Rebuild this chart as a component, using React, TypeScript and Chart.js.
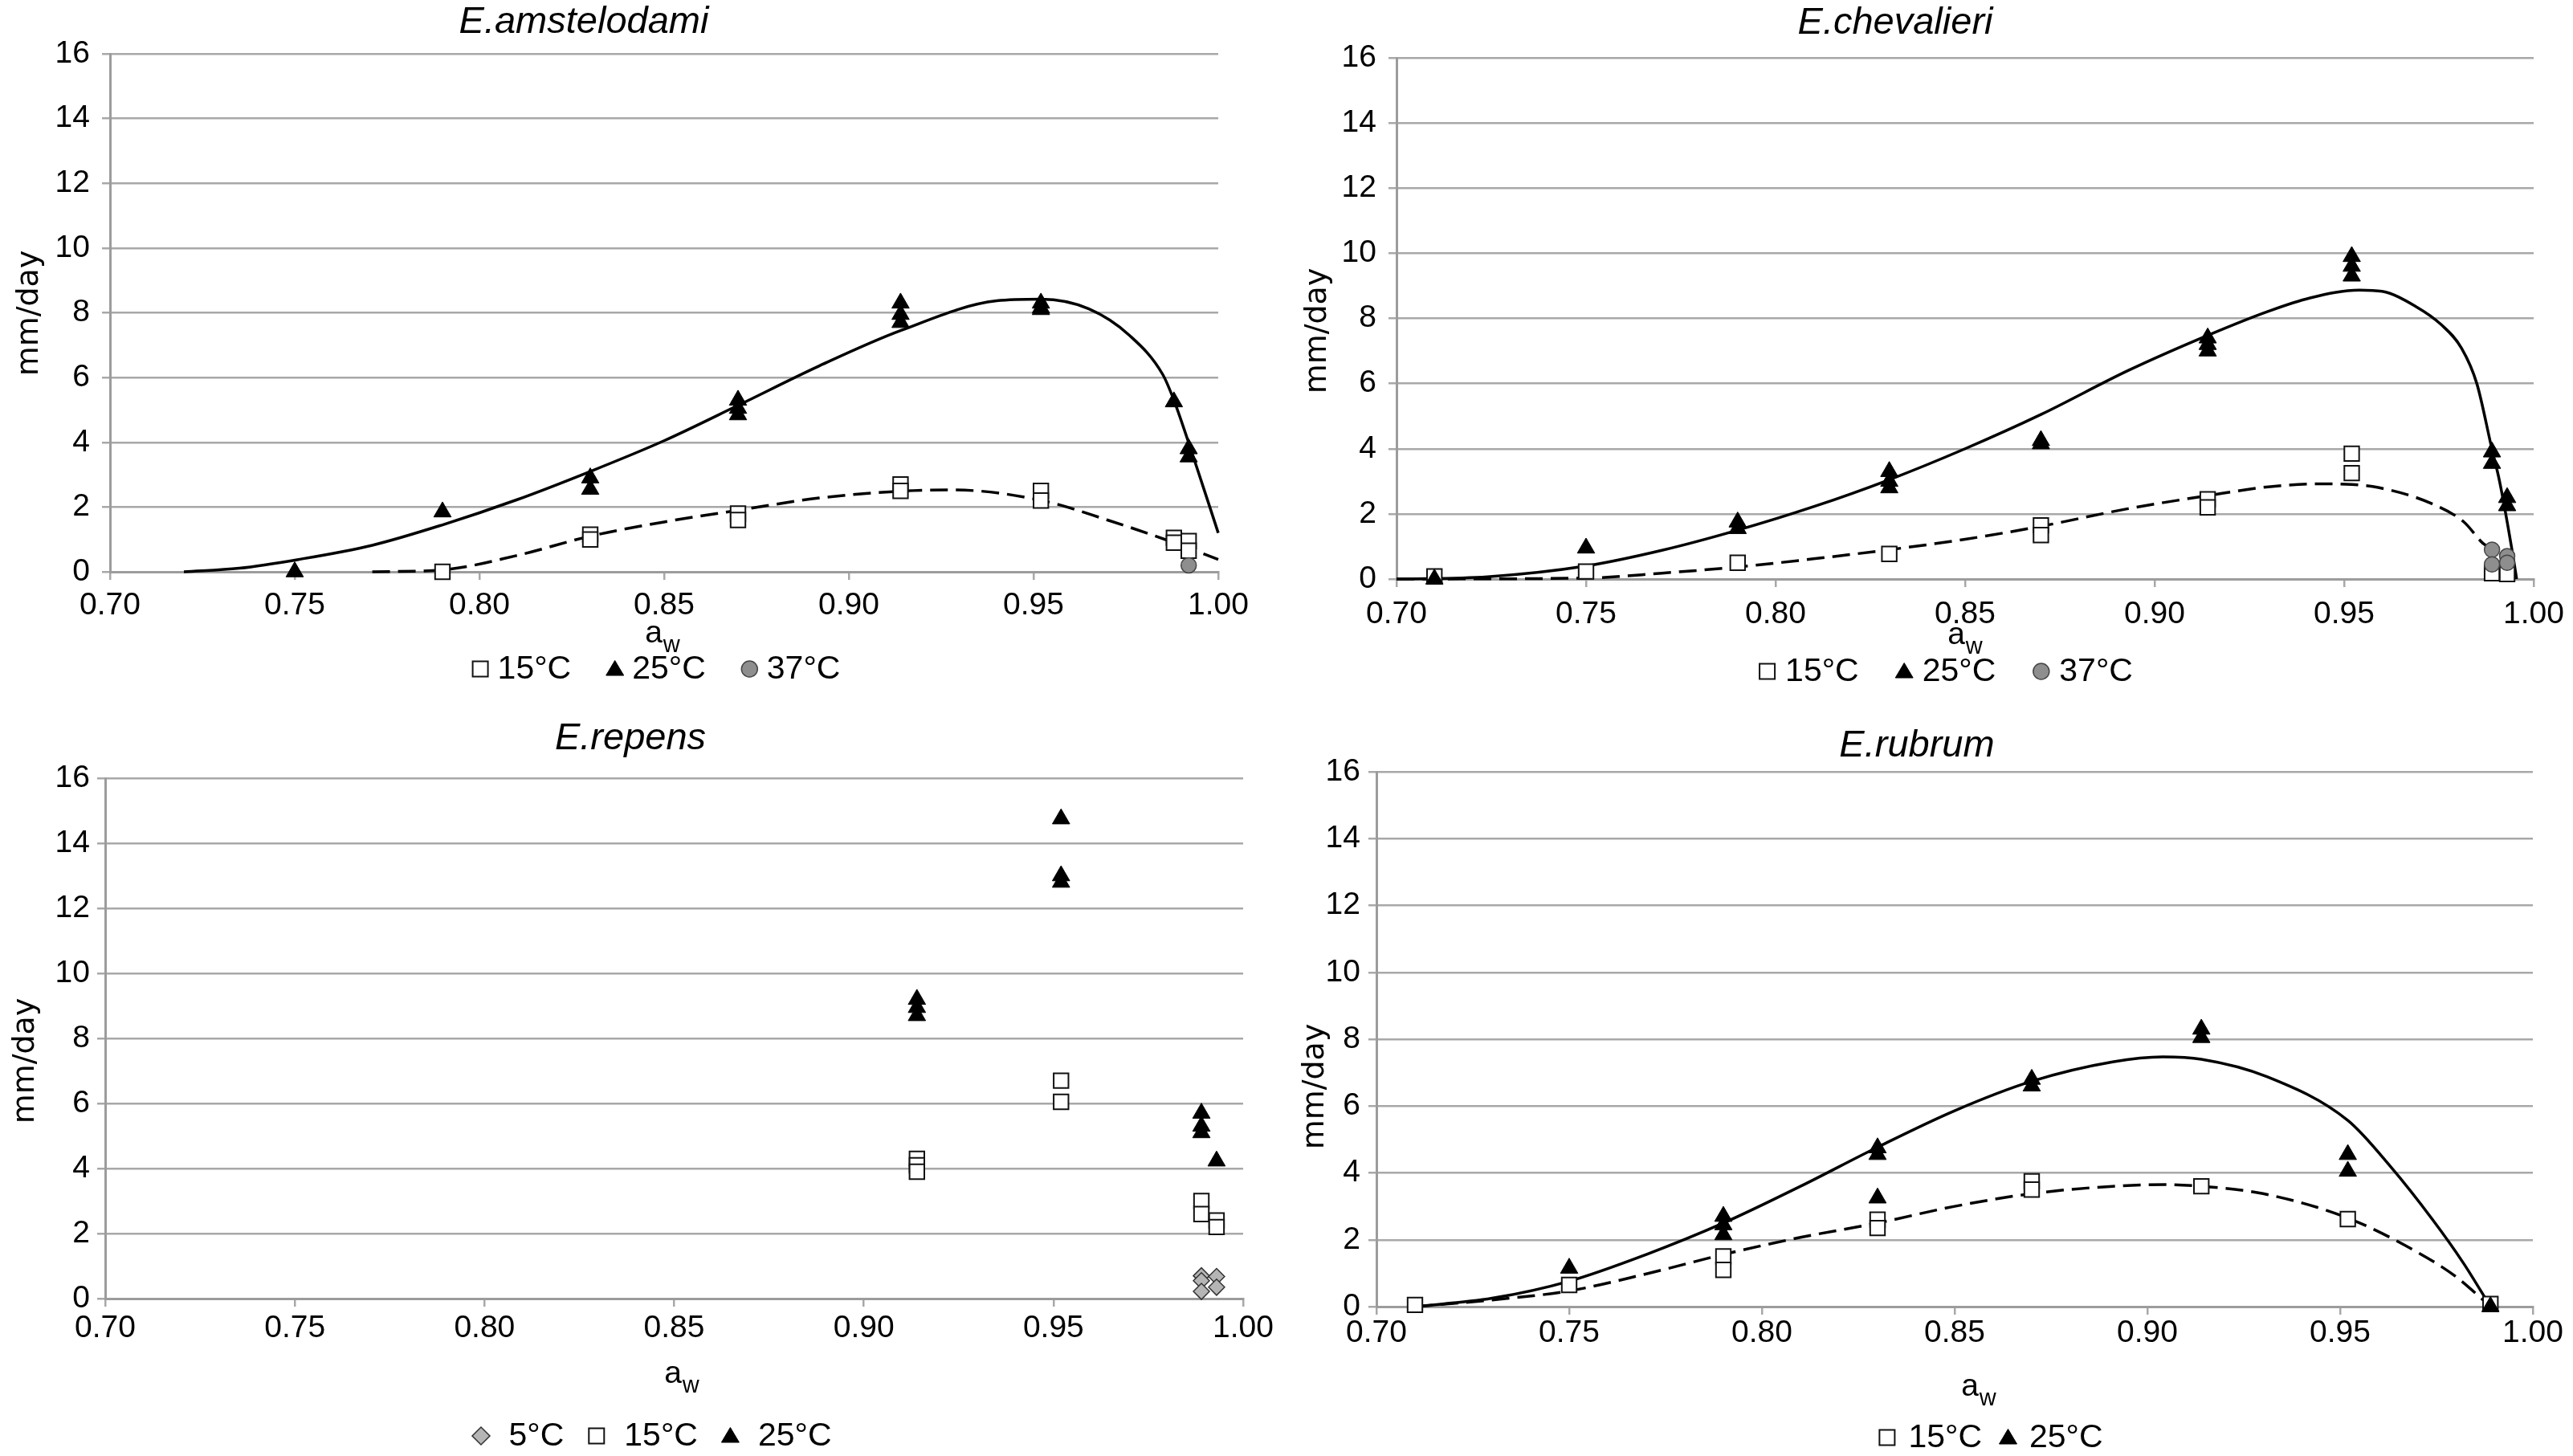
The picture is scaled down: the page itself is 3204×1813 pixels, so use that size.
import { useEffect, useRef } from 'react';
import { Chart, registerables } from 'chart.js';

Chart.register(...registerables);

const SANS = '"Liberation Sans", Arial, Helvetica, sans-serif';
const WIDE = '"DejaVu Sans", Verdana, sans-serif';
const GRID = '#a8a8a8';
const AXIS = '#9c9c9c';

const X_MIN = 0.7;
const X_MAX = 1.0;
const X_STEP = 0.05;
const Y_MIN = 0;
const Y_MAX = 16;
const Y_STEP = 2;

// ---------------- E.amstelodami ----------------
const amstAw15 = [0.79, 0.83, 0.83, 0.87, 0.87, 0.914, 0.914, 0.952, 0.952, 0.988, 0.988, 0.992, 0.992];
const amstRate15 = [0.0, 1.15, 1.0, 1.8, 1.6, 2.7, 2.5, 2.5, 2.2, 1.05, 0.9, 0.95, 0.65];
const amstAw25 = [0.75, 0.79, 0.83, 0.83, 0.87, 0.87, 0.87, 0.914, 0.914, 0.914, 0.952, 0.952, 0.952, 0.988, 0.992, 0.992];
const amstRate25 = [0.0, 1.85, 2.9, 2.55, 5.3, 5.05, 4.85, 8.3, 7.95, 7.7, 8.3, 8.15, 8.1, 5.25, 3.8, 3.55];
const amstAw37 = [0.992];
const amstRate37 = [0.2];
const amstFitAw25 = [0.72, 0.735, 0.751, 0.771, 0.79, 0.81, 0.83, 0.85, 0.87, 0.892, 0.914, 0.94, 0.952, 0.965, 0.976, 0.985, 0.988, 0.993, 1.0];
const amstFit25 = [0, 0.11, 0.38, 0.82, 1.45, 2.22, 3.1, 4.05, 5.14, 6.36, 7.45, 8.37, 8.42, 8.12, 7.3, 6.09, 5.3, 3.64, 1.2];
const amstFitAw15 = [0.771, 0.79, 0.81, 0.83, 0.85, 0.87, 0.892, 0.914, 0.928, 0.952, 0.97, 0.989, 1.0];
const amstFit15 = [0, 0.06, 0.5, 1.1, 1.54, 1.9, 2.28, 2.49, 2.53, 2.21, 1.6, 0.86, 0.38];

// ---------------- E.chevalieri ----------------
const chevAw15 = [0.71, 0.75, 0.79, 0.83, 0.87, 0.87, 0.914, 0.914, 0.952, 0.952, 0.989, 0.993];
const chevRate15 = [0.08, 0.23, 0.5, 0.77, 1.65, 1.35, 2.45, 2.2, 3.85, 3.25, 0.18, 0.15];
const chevAw25 = [0.71, 0.75, 0.79, 0.79, 0.83, 0.83, 0.83, 0.87, 0.87, 0.914, 0.914, 0.914, 0.952, 0.952, 0.952, 0.989, 0.989, 0.993, 0.993];
const chevRate25 = [0.0, 0.95, 1.75, 1.55, 3.3, 3.0, 2.8, 4.25, 4.15, 7.4, 7.2, 7.0, 9.9, 9.6, 9.3, 3.9, 3.55, 2.5, 2.25];
const chevAw37 = [0.989, 0.989, 0.993, 0.993];
const chevRate37 = [0.9, 0.45, 0.7, 0.5];
const chevFitAw25 = [0.7, 0.724, 0.75, 0.77, 0.79, 0.81, 0.83, 0.85, 0.87, 0.893, 0.914, 0.93, 0.941, 0.954, 0.96, 0.969, 0.9755, 0.981, 0.985, 0.989, 0.991, 0.9947, 0.9955];
const chevFit25 = [0, 0.07, 0.4, 0.88, 1.5, 2.22, 3.05, 4.0, 5.05, 6.4, 7.48, 8.22, 8.63, 8.87, 8.83, 8.36, 7.82, 7.08, 6.0, 3.98, 3.0, 0.6, 0];
const chevFitAw15 = [0.7, 0.75, 0.77, 0.79, 0.81, 0.83, 0.85, 0.87, 0.893, 0.914, 0.93, 0.943, 0.952, 0.959, 0.973, 0.9816, 0.9867, 0.989];
const chevFit15 = [0, 0.03, 0.18, 0.37, 0.62, 0.9, 1.22, 1.62, 2.16, 2.56, 2.83, 2.92, 2.9, 2.81, 2.32, 1.75, 1.09, 0.94];

// ---------------- E.repens ----------------
const repAw5 = [0.989, 0.989, 0.989, 0.993, 0.993];
const repRate5 = [0.7, 0.55, 0.22, 0.68, 0.35];
const repAw15 = [0.914, 0.914, 0.914, 0.952, 0.952, 0.989, 0.989, 0.993, 0.993];
const repRate15 = [4.3, 4.1, 3.9, 6.7, 6.05, 3.0, 2.6, 2.4, 2.2];
const repAw25 = [0.914, 0.914, 0.914, 0.952, 0.952, 0.952, 0.989, 0.989, 0.989, 0.993];
const repRate25 = [9.2, 8.95, 8.7, 14.75, 13.0, 12.8, 5.7, 5.3, 5.1, 4.23];

// ---------------- E.rubrum ----------------
const rubAw15 = [0.71, 0.75, 0.79, 0.79, 0.83, 0.83, 0.87, 0.87, 0.914, 0.952, 0.989];
const rubRate15 = [0.05, 0.65, 1.5, 1.1, 2.6, 2.35, 3.75, 3.5, 3.6, 2.62, 0.08];
const rubAw25 = [0.75, 0.79, 0.79, 0.79, 0.83, 0.83, 0.83, 0.87, 0.87, 0.914, 0.914, 0.952, 0.952, 0.989];
const rubRate25 = [1.15, 2.7, 2.45, 2.15, 4.75, 4.55, 3.25, 6.8, 6.6, 8.3, 8.05, 4.55, 4.05, 0];
const rubFitAw25 = [0.71, 0.73, 0.75, 0.77, 0.79, 0.81, 0.83, 0.85, 0.87, 0.891, 0.904, 0.914, 0.931, 0.952, 0.963, 0.974, 0.982, 0.989];
const rubFit25 = [0, 0.25, 0.76, 1.56, 2.5, 3.6, 4.77, 5.86, 6.74, 7.32, 7.47, 7.4, 6.88, 5.57, 4.2, 2.6, 1.3, 0];
const rubFitAw15 = [0.71, 0.73, 0.75, 0.77, 0.79, 0.81, 0.83, 0.85, 0.87, 0.891, 0.905, 0.914, 0.93, 0.952, 0.97, 0.98, 0.989];
const rubFit15 = [0, 0.2, 0.47, 0.98, 1.56, 2.07, 2.5, 3.0, 3.38, 3.6, 3.65, 3.6, 3.38, 2.65, 1.63, 0.9, 0];

// ---------------- styles ----------------
const STYLE: Record<string, any> = {
  t5: { label: '5°C', pointStyle: 'rectRot', pointRadius: 10, pointBackgroundColor: '#b5b5b5', pointBorderColor: '#333333', pointBorderWidth: 1.5, order: 3 },
  t15: { label: '15°C', pointStyle: 'rect', pointRadius: 13, pointBackgroundColor: '#ffffff', pointBorderColor: '#111111', pointBorderWidth: 2, order: 2 },
  t25: { label: '25°C', pointStyle: 'triangle', pointRadius: 12.5, pointBackgroundColor: '#000000', pointBorderColor: '#000000', pointBorderWidth: 1, order: 1 },
  t37: { label: '37°C', pointStyle: 'circle', pointRadius: 9.5, pointBackgroundColor: '#8e8e8e', pointBorderColor: '#454545', pointBorderWidth: 1.5, order: 0 },
};

function zip(xs: number[], ys: number[]) {
  return xs.map((x, i) => ({ x, y: ys[i] }));
}

function scatterSet(style: any, xs: number[], ys: number[]) {
  return {
    ...style,
    data: zip(xs, ys),
    showLine: false,
    clip: false,
    pointHoverRadius: style.pointRadius,
    backgroundColor: style.pointBackgroundColor,
    borderColor: style.pointBorderColor,
  };
}

function fitSet(xs: number[], ys: number[], dashed: boolean) {
  return {
    label: '',
    isFit: true,
    data: zip(xs, ys),
    showLine: true,
    pointRadius: 0,
    pointHoverRadius: 0,
    borderColor: '#000000',
    borderWidth: 3.5,
    borderDash: dashed ? [22, 10] : [],
    cubicInterpolationMode: 'monotone',
    fill: false,
    order: 10,
    clip: false,
  };
}

const XH = 60;

const PANELS: any[] = [
  {
    key: 'amst', ox: 0, oy: 0, w: 1602, h: 870,
    area: { l: 137, r: 1517, t: 67, b: 712 },
    yTickPad: 15, xTickPad: 9,
    title: 'E.amstelodami', titleX: 727, titleY: 28,
    yLab: [37, 390], aw: [814, 790],
    legend: { x: 817, y: 833, markerGap: 11, itemGap: 44 },
    datasets: () => [
      scatterSet(STYLE.t15, amstAw15, amstRate15),
      scatterSet(STYLE.t25, amstAw25, amstRate25),
      scatterSet(STYLE.t37, amstAw37, amstRate37),
      fitSet(amstFitAw25, amstFit25, false),
      fitSet(amstFitAw15, amstFit15, true),
    ],
  },
  {
    key: 'chev', ox: 1602, oy: 0, w: 1602, h: 870,
    area: { l: 1739, r: 3158, t: 72, b: 721 },
    yTickPad: 15, xTickPad: 11,
    title: 'E.chevalieri', titleX: 2360, titleY: 29,
    yLab: [1641, 412], aw: [2436, 792],
    legend: { x: 2423, y: 836, markerGap: 12, itemGap: 46 },
    datasets: () => [
      scatterSet(STYLE.t15, chevAw15, chevRate15),
      scatterSet(STYLE.t25, chevAw25, chevRate25),
      scatterSet(STYLE.t37, chevAw37, chevRate37),
      fitSet(chevFitAw25, chevFit25, false),
      fitSet(chevFitAw15, chevFit15, true),
    ],
  },
  {
    key: 'rep', ox: 0, oy: 870, w: 1602, h: 943,
    area: { l: 131, r: 1548, t: 969, b: 1617 },
    yTickPad: 9, xTickPad: 4,
    title: 'E.repens', titleX: 785, titleY: 920,
    yLab: [32, 1321], aw: [838, 1712],
    legend: { x: 812, y: 1788, markerGap: 24, itemGap: 30 },
    datasets: () => [
      scatterSet(STYLE.t5, repAw5, repRate5),
      scatterSet(STYLE.t15, repAw15, repRate15),
      scatterSet(STYLE.t25, repAw25, repRate25),
    ],
  },
  {
    key: 'rub', ox: 1602, oy: 870, w: 1602, h: 943,
    area: { l: 1714, r: 3154, t: 961, b: 1627 },
    yTickPad: 10, xTickPad: 0,
    title: 'E.rubrum', titleX: 2387, titleY: 929,
    yLab: [1638, 1353], aw: [2453, 1728],
    legend: { x: 2479, y: 1790, markerGap: 16, itemGap: 22 },
    datasets: () => [
      scatterSet(STYLE.t15, rubAw15, rubRate15),
      scatterSet(STYLE.t25, rubAw25, rubRate25),
      fitSet(rubFitAw25, rubFit25, false),
      fitSet(rubFitAw15, rubFit15, true),
    ],
  },
];

function drawMarker(ctx: CanvasRenderingContext2D, ds: any, x: number, y: number) {
  ctx.save();
  ctx.fillStyle = ds.pointBackgroundColor;
  ctx.strokeStyle = ds.pointBorderColor;
  ctx.lineWidth = ds.pointBorderWidth;
  ctx.beginPath();
  switch (ds.pointStyle) {
    case 'rect':
      ctx.rect(x - 9.5, y - 9.5, 19, 19);
      break;
    case 'triangle':
      ctx.moveTo(x, y - 10.5);
      ctx.lineTo(x + 11, y + 8);
      ctx.lineTo(x - 11, y + 8);
      ctx.closePath();
      break;
    case 'circle':
      ctx.arc(x, y, 10, 0, Math.PI * 2);
      break;
    case 'rectRot':
      ctx.moveTo(x, y - 11);
      ctx.lineTo(x + 11, y);
      ctx.lineTo(x, y + 11);
      ctx.lineTo(x - 11, y);
      ctx.closePath();
      break;
  }
  ctx.fill();
  ctx.stroke();
  ctx.restore();
}

const panelText = {
  id: 'panelText',
  afterDraw(chart: any, _args: any, o: any) {
    const ctx: CanvasRenderingContext2D = chart.ctx;
    const ox = o.ox;
    const oy = o.oy;
    ctx.save();
    ctx.fillStyle = '#000';

    // title
    ctx.font = `italic 47px ${SANS}`;
    ctx.textAlign = 'center';
    ctx.textBaseline = 'middle';
    ctx.fillText(o.title, o.titleX - ox, o.titleY - oy);

    // y axis title
    ctx.save();
    ctx.translate(o.yLab[0] - ox, o.yLab[1] - oy);
    ctx.rotate(-Math.PI / 2);
    ctx.font = `38px ${WIDE}`;
    ctx.textAlign = 'center';
    ctx.textBaseline = 'middle';
    ctx.fillText('mm/day', 0, 0);
    ctx.restore();

    // x axis title: a with subscript w ("aw" is the centre of the "a")
    ctx.textAlign = 'left';
    ctx.textBaseline = 'alphabetic';
    ctx.font = `39px ${SANS}`;
    const wa = ctx.measureText('a').width;
    const sx = o.aw[0] - ox - wa / 2;
    const ay = o.aw[1] - oy;
    ctx.fillText('a', sx, ay + 10);
    ctx.font = `29px ${SANS}`;
    ctx.fillText('w', sx + wa + 1, ay + 22);

    // legend
    const items = chart.data.datasets.filter((d: any) => d.label && !d.isFit);
    ctx.font = `41px ${SANS}`;
    const lg = o.legend;
    const markerW = 21;
    const widths = items.map((d: any) => markerW + lg.markerGap + ctx.measureText(d.label).width);
    const total = widths.reduce((a: number, b: number) => a + b, 0) + lg.itemGap * (items.length - 1);
    let x = lg.x - ox - total / 2;
    const y = lg.y - oy;
    items.forEach((d: any, i: number) => {
      drawMarker(ctx, d, x + markerW / 2, y);
      ctx.fillStyle = '#000';
      ctx.textAlign = 'left';
      ctx.textBaseline = 'middle';
      ctx.fillText(d.label, x + markerW + lg.markerGap, y + 1);
      x += widths[i] + lg.itemGap;
    });
    ctx.restore();
  },
};

function buildConfig(p: any): any {
  const yW = p.area.l - p.ox;
  return {
    type: 'scatter',
    data: { datasets: p.datasets() },
    plugins: [panelText],
    options: {
      responsive: false,
      animation: false,
      devicePixelRatio: 1,
      events: [],
      layout: {
        padding: {
          left: 0,
          right: p.ox + p.w - p.area.r,
          top: p.area.t - p.oy,
          bottom: p.oy + p.h - p.area.b - XH,
        },
      },
      plugins: {
        legend: { display: false },
        title: { display: false },
        tooltip: { enabled: false },
        panelText: {
          ox: p.ox, oy: p.oy, title: p.title, titleX: p.titleX, titleY: p.titleY,
          yLab: p.yLab, aw: p.aw, legend: p.legend,
        },
      },
      scales: {
        x: {
          type: 'linear',
          min: X_MIN,
          max: X_MAX,
          ticks: {
            stepSize: X_STEP,
            autoSkip: false,
            maxRotation: 0,
            padding: p.xTickPad,
            color: '#000',
            font: { family: SANS, size: 39 },
            callback: (v: any) => Number(v).toFixed(2),
          },
          grid: { drawOnChartArea: false, drawTicks: true, tickLength: 10, color: GRID, lineWidth: 2.5 },
          border: { display: true, color: AXIS, width: 3 },
          afterFit: (s: any) => { s.height = XH; },
        },
        y: {
          type: 'linear',
          min: Y_MIN,
          max: Y_MAX,
          ticks: {
            stepSize: Y_STEP,
            padding: p.yTickPad,
            color: '#000',
            font: { family: SANS, size: 39 },
          },
          grid: { color: GRID, lineWidth: 2.5, tickLength: 10, drawTicks: true },
          border: { display: true, color: AXIS, width: 3 },
          afterFit: (s: any) => { s.width = yW; },
        },
      },
    },
  };
}

function ChartPanel({ p }: { p: any }) {
  const ref = useRef<HTMLCanvasElement>(null);
  useEffect(() => {
    if (!ref.current) return;
    const chart = new Chart(ref.current, buildConfig(p));
    return () => chart.destroy();
  }, [p]);
  return (
    <canvas
      ref={ref}
      width={p.w}
      height={p.h}
      style={{ position: 'absolute', left: p.ox, top: p.oy, width: p.w, height: p.h }}
    />
  );
}

export default function App() {
  return (
    <div
      style={{
        position: 'fixed',
        left: 0,
        top: 0,
        width: 3204,
        height: 1813,
        background: '#ffffff',
        overflow: 'hidden',
      }}
    >
      {PANELS.map((p) => (
        <ChartPanel key={p.key} p={p} />
      ))}
    </div>
  );
}
